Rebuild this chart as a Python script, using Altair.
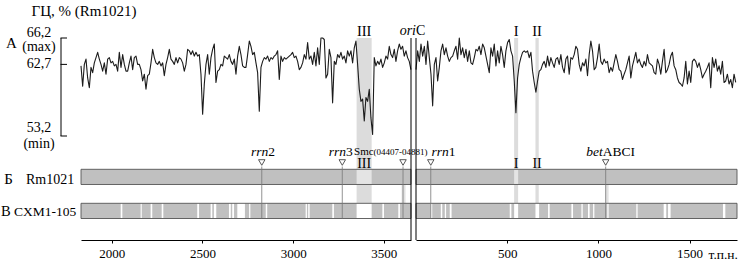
import altair as alt
import pandas as pd

FONT = "Liberation Serif"

# ---------------- text ----------------
Y_TITLE = "ГЦ, % (Rm1021)"
LETTER_A, LETTER_B, LETTER_V = "А", "Б", "В"
TRACKS = ["Rm1021", "CXM1-105"]
X_UNIT = "т.п.н."

# ---------------- axes ----------------
LEFT_DOMAIN = [1830, 3650]
RIGHT_DOMAIN = [0, 1760]
LEFT_TICKS = [2000, 2500, 3000, 3500]
RIGHT_TICKS = [500, 1000, 1500]

GC_MIN, GC_MAX = 53.2, 66.2
GC_TICKS = [66.2, 62.7, 53.2]
GC_TICK_LABELS = ["66,2", "62,7", "53,2"]
GC_TICK_NOTES = ["(max)", "", "(min)"]

# ---------------- GC profile (sliding windows) ----------------
LEFT_START, LEFT_STEP = 1830, 9.19
RIGHT_START, RIGHT_STEP = 0, 9.13

LEFT_GC = [
    62.5, 59.8, 62.7, 63.4, 60.9, 59.6, 62.3, 61.6, 62.9, 63.6,
    64.3, 63.4, 62.7, 61.8, 62.9, 61.4, 63.4, 63.6, 62.9, 63.1,
    62.5, 62.7, 61.8, 64.3, 62.3, 64.0, 62.7, 61.8, 61.8, 62.9,
    63.8, 62.0, 63.6, 63.8, 62.7, 62.7, 62.0, 60.5, 61.4, 59.4,
    61.2, 61.4, 62.9, 64.7, 63.6, 62.9, 62.7, 63.1, 62.5, 62.9,
    61.2, 62.7, 63.6, 64.7, 63.4, 63.1, 62.7, 63.6, 62.9, 63.6,
    63.4, 62.9, 61.8, 62.7, 64.7, 64.5, 64.0, 64.5, 63.8, 64.3,
    63.8, 64.0, 61.4, 56.1, 60.1, 62.7, 64.0, 61.4, 63.6, 64.7,
    65.4, 60.3, 61.8, 62.0, 62.7, 62.5, 63.8, 63.6, 63.4, 64.0,
    63.1, 62.7, 63.4, 61.4, 63.8, 65.1, 64.0, 62.5, 62.3, 62.3,
    64.0, 65.8,
    65.1, 64.0, 64.3, 62.9, 61.6, 56.5, 62.3, 63.1, 63.6, 63.4,
    63.8, 63.1, 63.6, 63.4, 63.8, 64.0, 64.5, 60.7, 63.8, 63.1,
    63.6, 63.4, 63.6, 63.8, 64.0, 64.3, 63.6, 63.8, 63.1, 62.0,
    62.3, 62.9, 64.0, 63.4, 65.6, 63.4, 63.8, 62.7, 64.3, 62.5,
    64.9, 62.7, 66.2, 66.2, 66.0, 60.9, 61.4, 64.7, 63.6, 57.6,
    63.1, 62.7, 64.0, 63.6, 64.3, 63.4, 63.8, 62.9, 64.5, 63.8,
    64.5, 62.9, 64.9, 65.8, 62.7, 59.4, 57.8, 58.1, 55.2, 58.3,
    57.8, 59.4, 55.6, 53.4, 63.6, 62.5, 63.1, 62.7, 63.4, 62.3,
    62.9, 63.8, 63.4, 65.1, 64.0, 63.6, 64.7, 63.1, 64.5, 65.4,
    64.7, 65.1, 63.8, 64.5, 63.6, 63.1, 62.0,
]

RIGHT_GC = [
    62.0, 64.5, 63.1, 65.4, 63.8, 65.1, 62.7, 65.8, 63.6, 61.4,
    57.2, 62.7, 63.6, 60.5, 62.3, 64.5, 65.4, 64.0, 64.9, 63.8,
    63.1, 63.6, 63.8, 64.5, 65.1, 63.4, 66.2, 64.0, 64.9, 63.6,
    64.7, 63.1, 64.5, 62.9, 62.7, 63.6, 64.7, 64.5, 65.1, 64.0,
    65.4, 64.9, 63.8, 62.7, 61.6, 64.9, 63.8, 65.4, 62.5, 64.5,
    62.9, 65.1, 64.0, 62.3, 64.5, 65.6, 66.0, 64.5, 63.8, 60.5,
    56.3, 60.9, 62.7, 63.6, 64.3, 64.5, 64.3, 64.5, 63.6, 64.3,
    61.8, 60.3, 59.0, 60.5, 61.8, 62.0, 62.7, 63.1, 62.3, 63.8,
    62.5, 63.6, 62.9, 62.3, 63.4, 63.6, 62.7, 64.0, 62.3, 61.6,
    63.4, 63.8, 61.4, 63.6, 63.4, 64.0, 65.1, 64.7,
    62.7, 61.8, 62.9, 62.5, 63.4, 61.2, 64.0, 65.8, 64.5, 62.0,
    62.3, 63.6, 65.4, 63.1, 62.7, 63.4, 62.9, 63.1, 61.6, 62.3,
    61.8, 62.9, 64.0, 63.1, 62.0, 61.8, 60.7, 61.4, 62.0, 62.9,
    63.8, 60.9, 62.5, 63.4, 64.3, 62.9, 63.4, 62.7, 62.3, 63.1,
    62.5, 64.0, 62.9, 62.7, 62.5, 61.6, 61.4, 63.4, 62.7, 61.4,
    63.1, 64.7, 61.6, 62.0, 62.7, 63.8, 64.3, 62.5, 62.0, 60.9,
    60.3, 60.1, 59.8, 60.9, 63.1, 60.1, 61.8, 60.3, 63.1, 63.4,
    63.1, 62.3, 62.9, 62.0, 60.9, 61.4, 61.8, 62.3, 62.9, 59.6,
    63.6, 62.3, 63.4, 61.8, 62.5, 61.4, 63.1, 60.3, 60.5, 61.4,
    60.1, 60.7, 59.6, 61.4, 60.3,
]

# ---------------- regions / features (kb) ----------------
REGION_NAMES = ["III", "I", "II"]
REGION_START = [3350, 538, 655]
REGION_END = [3433, 560, 673]

RM1021_LIGHT = ["III", "I"]

CXM_GAP_START = [2049, 2159, 2214, 2275, 2471, 2545, 2563, 2646, 2664, 2692,
                 2757, 2849, 3069, 3083, 3216, 3350, 3492, 3580,
                 81, 136, 158, 185, 514, 538, 655, 724, 852, 907,
                 943, 971, 1049, 1208, 1358, 1382, 1683]
CXM_GAP_END = [2058, 2165, 2223, 2284, 2481, 2554, 2576, 2656, 2674, 2734,
               2764, 2857, 3076, 3091, 3225, 3433, 3501, 3589,
               89, 144, 165, 195, 523, 560, 675, 733, 861, 914,
               952, 978, 1056, 1215, 1372, 1396, 1696]

TRACK_SHADE_START = [3598, 1040]
TRACK_SHADE_END = [3620, 1056]

MARKER_KB = [2827, 3271, 3606, 81, 1040]
MARKER_ITALIC = ["rrn", "rrn", "", "rrn", "bet"]
MARKER_PLAIN = ["2", "3", "", "1", "ABCI"]

SMC_NAME = "Smc"
SMC_RANGE = "(04407-04881)"
SMC_ANCHOR_KB = 3350

# ---------------- style ----------------
LABEL_DX = {"rrn2": 6.6, "rrn3": 3.7, "rrn1": 18, "betABCI": -3}
TICK_LABEL_DY = [-5.3, 0, -8]
TICK_NOTE_DY = [8.8, 0, 7.5]
H = 202
GC_RANGE = [98, 0]
TRACK_RANGE = [131.3, 180.5]
BAR_GRAY = "#c0c0c0"
SHADE = "#dcdcdc"


def text_layer(txt, x, y, size=14, align="left", baseline="alphabetic", style="normal", **kw):
    return alt.Chart(pd.DataFrame({"t": [txt]})).mark_text(
        font=FONT, fontSize=size, align=align, baseline=baseline,
        fontStyle=style, color="black", **kw
    ).encode(x=alt.value(x), y=alt.value(y), text="t:N")


def build_panel(domain, ticks, width, start, step, gc_vals):
    lo, hi = domain
    xs = alt.Scale(domain=domain, nice=False, zero=False)
    ax = alt.Axis(values=ticks, format="d", title=None, grid=False,
                  domainColor="black", domainWidth=1, tickColor="black",
                  tickSize=3, labelPadding=4, labelFont=FONT, labelFontSize=13,
                  labelColor="black", labelFlush=False)

    def X(f):
        return alt.X(f"{f}:Q", scale=xs, axis=ax)

    gcs = alt.Scale(domain=[GC_MIN, GC_MAX], range=GC_RANGE, nice=False, zero=False)
    ts = alt.Scale(domain=TRACKS, range=TRACK_RANGE, paddingInner=0.553, paddingOuter=0)
    TY = alt.Y("track:N", scale=ts, axis=None)

    reg = pd.DataFrame({"name": REGION_NAMES, "start": REGION_START, "end": REGION_END})
    reg = reg[(reg.start >= lo) & (reg.end <= hi)].copy()
    reg["mid"] = (reg.start + reg.end) / 2

    layers = []
    if len(reg):
        layers.append(alt.Chart(reg).mark_rect(color=SHADE).encode(
            x=X("start"), x2="end", y=alt.value(0), y2=alt.value(TRACK_RANGE[1])))

    tsh = pd.DataFrame({"start": TRACK_SHADE_START, "end": TRACK_SHADE_END})
    tsh = tsh[(tsh.start >= lo) & (tsh.end <= hi)]
    if len(tsh):
        layers.append(alt.Chart(tsh).mark_rect(color="#e2e2e2").encode(
            x=X("start"), x2="end", y=alt.value(140), y2=alt.value(TRACK_RANGE[1])))

    bars = pd.DataFrame({"track": TRACKS, "start": [lo, lo], "end": [hi, hi]})
    layers.append(alt.Chart(bars).mark_rect(color=BAR_GRAY).encode(
        x=X("start"), x2="end", y=TY))

    light = reg[reg.name.isin(RM1021_LIGHT)].copy()
    if len(light):
        light["track"] = TRACKS[0]
        layers.append(alt.Chart(light).mark_rect(color="#e4e4e4").encode(
            x=X("start"), x2="end", y=TY))

    gaps = pd.DataFrame({"start": CXM_GAP_START, "end": CXM_GAP_END})
    gaps = gaps[(gaps.start >= lo) & (gaps.end <= hi)].copy()
    gaps["track"] = TRACKS[1]
    layers.append(alt.Chart(gaps).mark_rect(color="white").encode(
        x=X("start"), x2="end", y=TY))

    layers.append(alt.Chart(bars).mark_rect(fillOpacity=0, stroke="#555555", strokeWidth=0.9).encode(
        x=X("start"), x2="end", y=TY))

    mk = pd.DataFrame({"kb": MARKER_KB, "it": MARKER_ITALIC, "pl": MARKER_PLAIN})
    mk = mk[(mk.kb >= lo) & (mk.kb <= hi)]
    if len(mk):
        layers.append(alt.Chart(mk).mark_rule(color="#777777", strokeWidth=0.8).encode(
            x=X("kb"), y=alt.value(128.5), y2=alt.value(TRACK_RANGE[1])))
        layers.append(alt.Chart(mk).mark_point(
            shape="triangle-down", size=42, filled=True, fill="white",
            stroke="#444444", strokeWidth=0.9, opacity=1).encode(
            x=X("kb"), y=alt.value(124.5)))
        for _, r in mk.iterrows():
            if not r.it and not r.pl:
                continue
            dx = LABEL_DX[r.it + r.pl]
            one = pd.DataFrame({"kb": [r.kb], "it": [r.it], "pl": [r.pl]})
            layers.append(alt.Chart(one).mark_text(
                font=FONT, fontSize=13.5, fontStyle="italic", align="right",
                baseline="alphabetic", dx=dx, color="black").encode(
                x=X("kb"), y=alt.value(118), text="it:N"))
            layers.append(alt.Chart(one).mark_text(
                font=FONT, fontSize=13.5, align="left",
                baseline="alphabetic", dx=dx, color="black").encode(
                x=X("kb"), y=alt.value(118), text="pl:N"))

    if lo <= SMC_ANCHOR_KB <= hi:
        smc = pd.DataFrame({"kb": [SMC_ANCHOR_KB], "a": [SMC_NAME], "b": [SMC_RANGE]})
        layers.append(alt.Chart(smc).mark_text(
            font=FONT, fontSize=11, align="left", baseline="alphabetic", dx=-2.5,
            color="black").encode(x=X("kb"), y=alt.value(117), text="a:N"))
        layers.append(alt.Chart(smc).mark_text(
            font=FONT, fontSize=9, align="left", baseline="alphabetic", dx=17,
            color="black").encode(x=X("kb"), y=alt.value(117), text="b:N"))

    if len(reg):
        layers.append(alt.Chart(reg).mark_text(
            font=FONT, fontSize=14.5, align="center", baseline="alphabetic",
            color="black").encode(x=X("mid"), y=alt.value(-2), text="name:N"))
        layers.append(alt.Chart(reg).mark_text(
            font=FONT, fontSize=14, align="center", baseline="alphabetic",
            color="black").encode(x=X("mid"), y=alt.value(130.3), text="name:N"))

    gc_df = pd.DataFrame({"kb": [start + step * i for i in range(len(gc_vals))],
                          "gc": gc_vals})
    layers.append(alt.Chart(gc_df).mark_line(
        color="#1c1c1c", strokeWidth=1.1, strokeJoin="round").encode(
        x=X("kb"), y=alt.Y("gc:Q", scale=gcs, axis=None)))
    return layers, gcs


left_layers, gcs = build_panel(LEFT_DOMAIN, LEFT_TICKS, 330, LEFT_START, LEFT_STEP, LEFT_GC)
right_layers, _ = build_panel(RIGHT_DOMAIN, RIGHT_TICKS, 321, RIGHT_START, RIGHT_STEP, RIGHT_GC)

# left-side annotations (left panel)
left_layers += [
    text_layer(Y_TITLE, 3, -22, size=15, align="center"),
    text_layer(LETTER_A, -75, 9.7, size=15),
    text_layer(LETTER_B, -76.7, 145.7, size=15),
    text_layer(TRACKS[0], -55, 145.7, size=14),
    text_layer(LETTER_V, -80, 178, size=14.5),
    text_layer(TRACKS[1], -67, 178, size=13.5),
    alt.Chart(pd.DataFrame({"lo": [GC_MIN], "hi": [GC_MAX]})).mark_rule(
        color="black", strokeWidth=1).encode(
        x=alt.value(-20), y=alt.Y("lo:Q", scale=gcs, axis=None), y2="hi:Q"),
    alt.Chart(pd.DataFrame({"v": GC_TICKS})).mark_rule(
        color="black", strokeWidth=1).encode(
        x=alt.value(-20.5), x2=alt.value(-14), y=alt.Y("v:Q", scale=gcs, axis=None)),
    alt.Chart(pd.DataFrame({"k": [0]})).mark_rule(color="black", strokeWidth=1).encode(
        x=alt.value(330), y=alt.value(0), y2=alt.value(H)),
]
for v, lab, note, dy1, dy2 in zip(GC_TICKS, GC_TICK_LABELS, GC_TICK_NOTES,
                                  TICK_LABEL_DY, TICK_NOTE_DY):
    one = pd.DataFrame({"v": [v], "lab": [lab], "note": [note]})
    left_layers.append(alt.Chart(one).mark_text(
        font=FONT, fontSize=14, align="center", baseline="middle", dy=dy1,
        color="black").encode(
        x=alt.value(-42), y=alt.Y("v:Q", scale=gcs, axis=None), text="lab:N"))
    if note:
        left_layers.append(alt.Chart(one).mark_text(
            font=FONT, fontSize=14, align="center", baseline="middle", dy=dy2,
            color="black").encode(
            x=alt.value(-42), y=alt.Y("v:Q", scale=gcs, axis=None), text="note:N"))

right_layers += [
    alt.Chart(pd.DataFrame({"k": [0]})).mark_rule(color="black", strokeWidth=1).encode(
        x=alt.value(0), y=alt.value(0), y2=alt.value(H)),
    text_layer("ori", 0, -2.7, size=14, align="right", style="italic"),
    text_layer("C", 0, -2.7, size=14, align="left"),
    text_layer(X_UNIT, 292.5, 221.3, size=13.5),
]

left = alt.layer(*left_layers).properties(width=330, height=H).resolve_scale(y="independent")
right = alt.layer(*right_layers).properties(width=321, height=H).resolve_scale(y="independent")

chart = alt.hconcat(left, right, spacing=5, bounds="flush").configure_view(
    stroke=None
).properties(
    padding={"left": 1, "top": 4, "right": 2, "bottom": 2},
    background="white",
)

chart.save("out.html", embed_options={"renderer": "svg", "actions": False})
